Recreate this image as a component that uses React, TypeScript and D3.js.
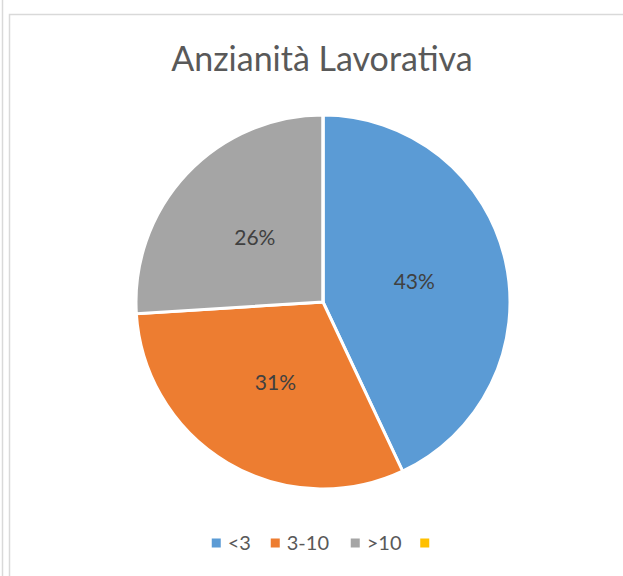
import React from "react";
import * as d3 from "d3";

const categories = ["<3", "3-10", ">10", ""];
const values = [43, 31, 26, 0];
const colors = ["#5b9bd5", "#ed7d31", "#a5a5a5", "#ffc000"];
const title = "Anzianità Lavorativa";

const W = 623;
const H = 576;
const FONT = "Lato, 'Open Sans', sans-serif";

export default function App() {
    const cx = 323;
    const cy = 302;
    const r = 187;

    const data = categories.map((c, i) => ({ name: c, value: values[i], color: colors[i] }));
    const pie = d3.pie<any>().sort(null).value((d) => d.value);
    const arcs = pie(data);
    const arc = d3.arc<any>().innerRadius(0).outerRadius(r);
    const total = d3.sum(values);

    // legend layout (item widths estimated from text length)
    const legendFont = 20;
    const sq = 9;
    const itemWidths = categories.map((c) => sq + 8 + c.length * 10.5 + 21);
    const legendW = d3.sum(itemWidths);
    let lx = 325 - legendW / 2 + 10;

    return (
        <svg
            width={W}
            height={H}
            style={{ position: "absolute", left: 0, top: 0, background: "#fff" }}
        >
            {/* frame lines */}
            <line x1={2.5} y1={0} x2={2.5} y2={H} stroke="#d9d9d9" strokeWidth={1.5} />
            <path
                d={`M9.5,${H} L9.5,14.5 L${W},14.5`}
                fill="none"
                stroke="#d9d9d9"
                strokeWidth={1.5}
            />

            <text
                x={322}
                y={71}
                textAnchor="middle"
                fontFamily={FONT}
                fontSize={34}
                fill="#595959"
            >
                {title}
            </text>

            <g transform={`translate(${cx},${cy})`}>
                {arcs.map((a, i) => (
                    <path key={i} d={arc(a) || ""} fill={a.data.color} stroke="#fff" strokeWidth={3} />
                ))}
                {arcs
                    .filter((a) => a.data.value > 0)
                    .map((a, i) => {
                        const [x, y] = arc.centroid(a);
                        return (
                            <text
                                key={i}
                                x={x}
                                y={y}
                                dy="0.35em"
                                textAnchor="middle"
                                fontFamily={FONT}
                                fontSize={21}
                                fill="#404040"
                            >
                                {Math.round((a.data.value / total) * 100)}%
                            </text>
                        );
                    })}
            </g>

            <g>
                {data.map((d, i) => {
                    const x = lx;
                    lx += itemWidths[i];
                    return (
                        <g key={i} transform={`translate(${x},543)`}>
                            <rect x={0} y={-sq / 2} width={sq} height={sq} fill={d.color} />
                            <text
                                x={sq + 7}
                                y={0}
                                dy="0.35em"
                                fontFamily={FONT}
                                fontSize={legendFont}
                                fill="#595959"
                            >
                                {d.name}
                            </text>
                        </g>
                    );
                })}
            </g>
        </svg>
    );
}
